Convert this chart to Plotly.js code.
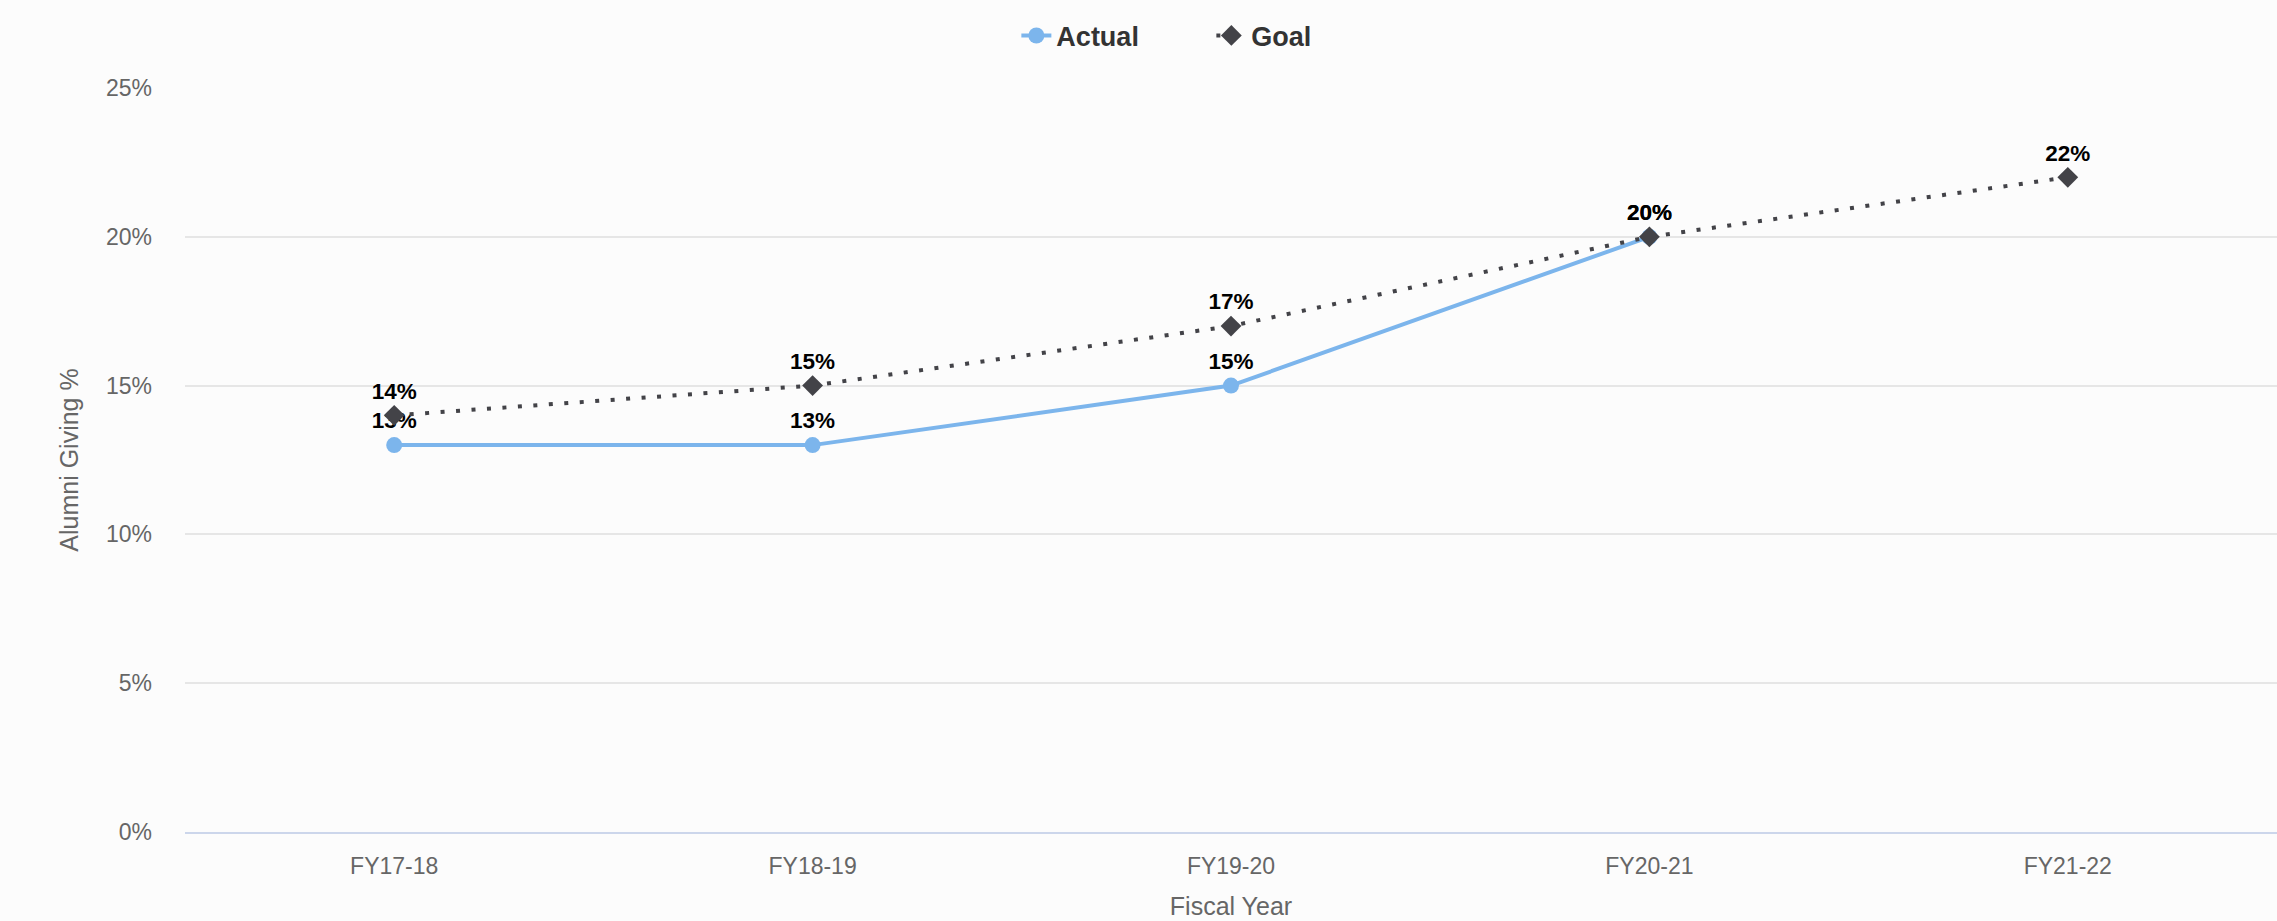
<!DOCTYPE html>
<html>
<head>
<meta charset="utf-8">
<script src="https://cdn.plot.ly/plotly-3.0.1.min.js"></script>
<style>
  html, body { margin: 0; padding: 0; background: #fcfcfc; }
  #chart { width: 2277px; height: 921px; }
</style>
</head>
<body>
<div id="chart"></div>
<script>
const categories = ["FY17-18", "FY18-19", "FY19-20", "FY20-21", "FY21-22"];
const actualValues = [13, 13, 15, 20, null];
const goalValues = [14, 15, 17, 20, 22];
const yTickValues = [0, 5, 10, 15, 20, 25];
const yTickLabels = ["0%", "5%", "10%", "15%", "20%", "25%"];

const FONT = "Liberation Sans, Arial, Helvetica, sans-serif";

const actual = {
  name: "Actual",
  x: categories,
  y: actualValues,
  type: "scatter",
  mode: "lines+markers+text",
  line: { color: "#7cb5ec", width: 4 },
  marker: { color: "#7cb5ec", size: 16, symbol: "circle" },
  text: actualValues.map(v => v === null ? "" : v + "%"),
  textposition: "top center",
  textfont: { family: FONT, size: 22.5, color: "#000000", weight: "bold" },
  hoverinfo: "x+y",
  connectgaps: false
};

const goal = {
  name: "Goal",
  x: categories,
  y: goalValues,
  type: "scatter",
  mode: "lines+markers+text",
  line: { color: "#434348", width: 4, dash: "4px,11.5px" },
  marker: { color: "#434348", size: 16, symbol: "diamond" },
  text: goalValues.map(v => v + "%"),
  textposition: "top center",
  textfont: { family: FONT, size: 22.5, color: "#000000", weight: "bold" },
  hoverinfo: "x+y"
};

const layout = {
  width: 2277,
  height: 921,
  paper_bgcolor: "#fcfcfc",
  plot_bgcolor: "#fcfcfc",
  margin: { l: 185, r: 0, t: 88, b: 89, pad: 0 },
  font: { family: FONT, color: "#666666" },
  showlegend: true,
  legend: {
    orientation: "h",
    xref: "container",
    yref: "container",
    x: 0.532,
    xanchor: "center",
    y: 0.961,
    yanchor: "middle",
    font: { family: FONT, size: 27, color: "#333333", weight: "bold" },
    entrywidth: 150,
    entrywidthmode: "pixels",
    bgcolor: "rgba(0,0,0,0)"
  },
  xaxis: {
    type: "category",
    range: [-0.5, 4.5],
    showgrid: false,
    zeroline: false,
    showline: true,
    linecolor: "#ccd6eb",
    linewidth: 2,
    ticks: "",
    tickfont: { family: FONT, size: 23, color: "#666666" },
    ticklabelstandoff: 12,
    title: { text: "Fiscal Year", font: { family: FONT, size: 25, color: "#666666" }, standoff: 20 }
  },
  yaxis: {
    range: [0, 25],
    tickvals: yTickValues,
    ticktext: yTickLabels,
    showgrid: true,
    gridcolor: "#e6e6e6",
    gridwidth: 2,
    zeroline: false,
    showline: false,
    ticks: "",
    tickfont: { family: FONT, size: 23, color: "#666666" },
    ticklabelstandoff: 32,
    title: { text: "Alumni Giving %", font: { family: FONT, size: 25, color: "#666666" }, standoff: 20 }
  }
};

Plotly.newPlot("chart", [actual, goal], layout, { displayModeBar: false });
</script>
</body>
</html>
